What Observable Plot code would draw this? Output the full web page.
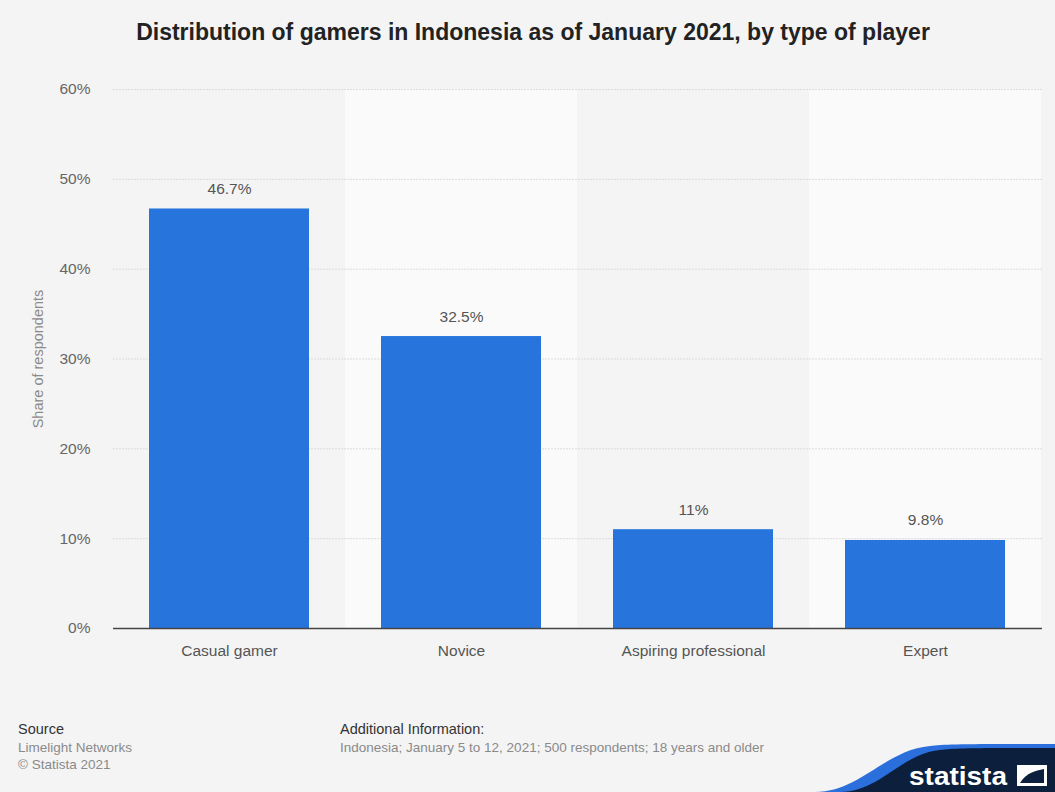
<!DOCTYPE html>
<html>
<head>
<meta charset="utf-8">
<script src="https://cdn.jsdelivr.net/npm/d3@7"></script>
<script src="https://cdn.jsdelivr.net/npm/@observablehq/plot@0.6"></script>
<style>
  html, body { margin: 0; padding: 0; background: #f4f4f4; }
  body { width: 1055px; height: 792px; position: relative; overflow: hidden; font-family: "Liberation Sans", Arial, Helvetica, sans-serif; }
  #title { position: absolute; top: 19px; left: 0; width: 1066px; text-align: center; font-weight: bold; font-size: 23px; color: #222; }
  #chart { position: absolute; top: 60px; left: 0; }
  .foot { position: absolute; font-size: 13.5px; color: #8a8a8a; line-height: 17.5px; }
  .foot b { font-weight: normal; color: #333; font-size: 14.5px; }
  #logo { position: absolute; right: 0; bottom: 0; }
</style>
</head>
<body>
<div id="title">Distribution of gamers in Indonesia as of January 2021, by type of player</div>
<div id="chart"></div>
<div class="foot" style="left:18px; top:721px;"><b>Source</b><br>Limelight Networks<br>© Statista 2021</div>
<div class="foot" style="left:340px; top:721px;"><b>Additional Information:</b><br>Indonesia; January 5 to 12, 2021; 500 respondents; 18 years and older</div>
<svg id="logo" width="240" height="52" viewBox="0 0 240 52">
  <path d="M0,52 C45,52 70,10 115,6 C130,4 150,4 240,4 L240,52 Z" fill="#2b6fdc"/>
  <path d="M25,52 C65,52 85,14 125,10 C140,8 160,8 240,8 L240,52 Z" fill="#0c1f3d"/>
  <text x="94" y="45" fill="#ffffff" font-family="Liberation Sans Narrow, Liberation Sans, Arial" font-weight="bold" font-size="26" textLength="98" lengthAdjust="spacingAndGlyphs">statista</text>
  <rect x="202" y="25" width="30" height="21" fill="#ffffff"/>
  <path d="M205,43 C212,32 220,31 229,29 L229,43 Z" fill="#0c1f3d"/>
</svg>
<script>
const categories = ["Casual gamer", "Novice", "Aspiring professional", "Expert"];
const shares = [46.7, 32.5, 11, 9.8];
const yTicks = [0, 10, 20, 30, 40, 50, 60];
const shadedBands = ["Novice", "Expert"];
const yLabel = "Share of respondents";

const data = categories.map((c, i) => ({category: c, value: shares[i]}));
const bandData = shadedBands.map(c => ({category: c, top: 60}));

const chart = Plot.plot({
  width: 1055,
  height: 620,
  marginTop: 29,
  marginBottom: 52,
  marginLeft: 113,
  marginRight: 13,
  style: {background: "transparent", fontFamily: "Liberation Sans, Arial, sans-serif"},
  x: {domain: categories, paddingInner: 0.31, paddingOuter: 0.155, label: null},
  y: {domain: [0, 60], label: null},
  marks: [
    Plot.barY(bandData, {x: "category", y1: 0, y2: "top", fill: "#fafafa", insetLeft: -36, insetRight: -36}),
    Plot.gridY(yTicks, {stroke: "#dcdcdc", strokeOpacity: 1, strokeDasharray: "2,1"}),
    Plot.axisY(yTicks, {tickSize: 0, tickPadding: 23, tickFormat: d => d + "%", fontSize: 15.5, fill: "#666", label: null}),
    Plot.axisX({tickSize: 0, tickPadding: 16, fontSize: 15.5, fill: "#555", label: null}),
    Plot.text([yLabel], {frameAnchor: "left", textAnchor: "middle", text: d => d, rotate: -90, dx: -75, fontSize: 14.5, fill: "#8a8a8a"}),
    Plot.barY(data, {x: "category", y: "value", fill: "#2775dc"}),
    Plot.ruleY([0], {stroke: "#444", strokeWidth: 1.5}),
    Plot.text(data, {x: "category", y: "value", text: d => d.value + "%", dy: -20, fontSize: 15.5, fill: "#555"})
  ]
});
document.getElementById("chart").appendChild(chart);
</script>
</body>
</html>
